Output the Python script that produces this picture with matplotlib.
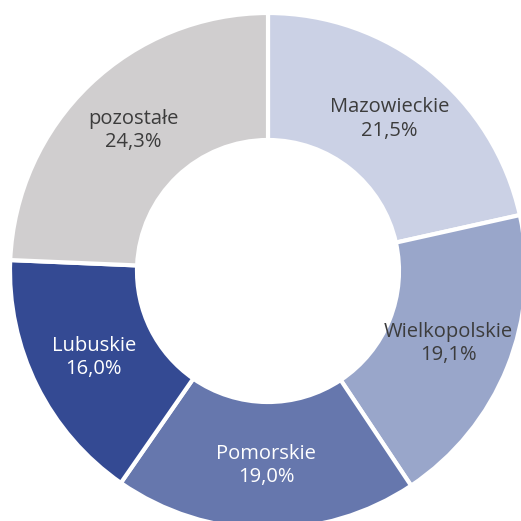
import numpy as np
import matplotlib.pyplot as plt

plt.rcParams['font.family'] = ['Open Sans', 'DejaVu Sans']

regions = ['Mazowieckie', 'Wielkopolskie', 'Pomorskie', 'Lubuskie', 'pozostałe']
shares = [21.5, 19.1, 19.0, 16.0, 24.3]
colors = ['#cbd1e5', '#99a6ca', '#6677ad', '#344a93', '#d0cecf']
text_colors = ['#3c3c3c', '#3c3c3c', 'white', 'white', '#3c3c3c']

fig = plt.figure(figsize=(5.21, 5.21), dpi=100)
ax = fig.add_axes([0, 0, 1, 1])

# srodek i promien w pikselach obrazka
cx, cy = 268, 521 - 271
R = 258
width = 127

wedges, _ = ax.pie(shares, colors=colors, startangle=90, counterclock=False,
                   radius=R, center=(cx, cy),
                   wedgeprops=dict(width=width, edgecolor='white', linewidth=3))

rmid = R - width / 2
for w, name, val, tc in zip(wedges, regions, shares, text_colors):
    ang = np.deg2rad((w.theta1 + w.theta2) / 2)
    x = cx + rmid * np.cos(ang)
    y = cy + rmid * np.sin(ang)
    lab = name + '\n' + ('%.1f%%' % val).replace('.', ',')
    ax.text(x, y, lab, ha='center', va='center', color=tc, fontsize=14.5,
            linespacing=1.25)

ax.set_xlim(0, 521)
ax.set_ylim(0, 521)
ax.set_aspect('equal')
ax.axis('off')

fig.savefig('out.png', dpi=100)
